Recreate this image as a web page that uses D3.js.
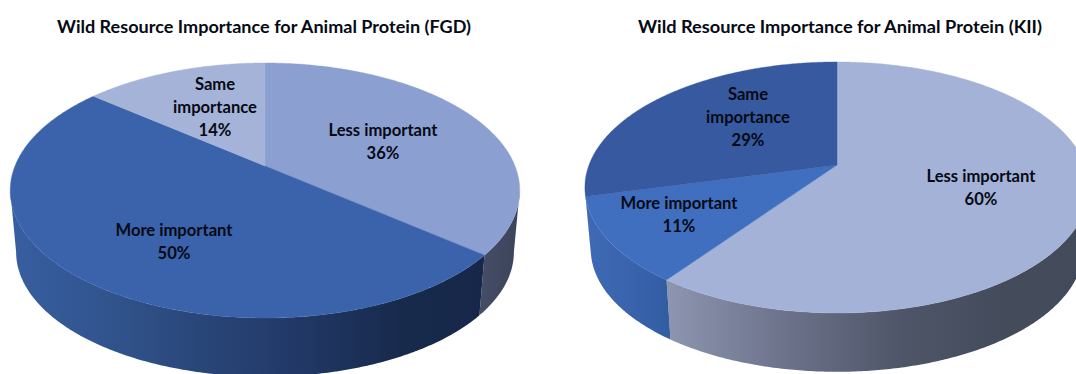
<!DOCTYPE html>
<html>
<head>
<meta charset="utf-8">
<script src="https://cdnjs.cloudflare.com/ajax/libs/d3/7.8.5/d3.min.js"></script>
<style>
  html, body { margin: 0; padding: 0; background: #fff; }
  svg { display: block; overflow: hidden; }
  text { font-family: Lato, "Open Sans", sans-serif; font-weight: 700; fill: #050a14; text-anchor: middle; }
</style>
</head>
<body>
<svg id="figure" width="1076" height="374"></svg>
<script>
// Share of responses per category, in clockwise order from twelve o'clock.
const categories = ["Less important", "More important", "Same importance"];
const fgdShares = [36, 50, 14];
const kiiShares = [60, 11, 29];
const fgdTitle = "Wild Resource Importance for Animal Protein (FGD)";
const kiiTitle = "Wild Resource Importance for Animal Protein (KII)";

// Disc geometry: apex position, perspective strength and projected radii.
const fgdView = {
  title: fgdTitle, titleX: 264, titleLength: 414, shares: fgdShares,
  apexX: 265, apexY: 166, tilt: 0.192, radiusX: 250, radiusY: 122.8,
  topColors: ["#8c9fd1", "#3b63ab", "#a5b3d8"],
  wallStops: [
    [["#454d66", 483], ["#3a4459", 520]],
    [["#375ea1", 12], ["#32558f", 100], ["#294679", 200], ["#213866", 300], ["#182a4c", 400], ["#16274a", 485]],
    [["#a5b3d8", 0], ["#a5b3d8", 1]]
  ],
  labels: [[383, 131, ["Less important", "36%"]],
           [174, 231, ["More important", "50%"]],
           [215, 85, ["Same", "importance", "14%"]]]
};
const kiiView = {
  title: kiiTitle, titleX: 840, titleLength: 404, shares: kiiShares,
  apexX: 837, apexY: 165, tilt: 0.179, radiusX: 248, radiusY: 121.5,
  topColors: ["#a4b2d7", "#416fc0", "#36599f"],
  wallStops: [
    [["#8d95b0", 667], ["#6b7189", 790], ["#4f5669", 900], ["#444b5b", 1000], ["#434a5a", 1089]],
    [["#3e69b4", 588], ["#3a64ad", 625], ["#335da3", 668]],
    [["#36599f", 0], ["#36599f", 1]]
  ],
  labels: [[981, 177, ["Less important", "60%"]],
           [679, 204, ["More important", "11%"]],
           [748, 95, ["Same", "importance", "29%"]]]
};

// The lower rim is the upper rim scaled about a far vanishing point below it.
const rimScale = 0.977;
const rimShift = 66;
const lineGap = 23;

const svg = d3.select("#figure");
const defs = svg.append("defs");
const pie = d3.pie().sort(null).value(d => d);
const outline = d3.line();

function drawDisc(view, idx) {
  const upper = a => {
    const u = Math.sin(a), v = -Math.cos(a), w = 1 - view.tilt * v;
    return [view.apexX + view.radiusX * u / w, view.apexY + view.radiusY * v / w];
  };
  const lower = a => {
    const [x, y] = upper(a);
    return [view.apexX + rimScale * (x - view.apexX), rimScale * y + rimShift];
  };
  const sweep = (a0, a1) => {
    const n = Math.max(4, Math.ceil((a1 - a0) / 0.01));
    return d3.range(n + 1).map(i => a0 + (a1 - a0) * i / n);
  };
  const slices = pie(view.shares);
  const g = svg.append("g");

  // Only the part of the rim facing the viewer has a wall; it runs between
  // the two silhouette angles where the disc is at its widest.
  const frontStart = Math.acos(-view.tilt);
  const frontEnd = 2 * Math.PI - frontStart;

  slices.forEach((d, i) => {
    const a0 = Math.max(d.startAngle, frontStart);
    const a1 = Math.min(d.endAngle, frontEnd);
    if (a1 <= a0) return;
    const stops = view.wallStops[i];
    const x0 = stops[0][1], x1 = stops[stops.length - 1][1];
    const id = `wall-${idx}-${i}`;
    const grad = defs.append("linearGradient").attr("id", id)
      .attr("gradientUnits", "userSpaceOnUse")
      .attr("x1", x0).attr("x2", x1).attr("y1", 0).attr("y2", 0);
    grad.selectAll("stop").data(stops).join("stop")
      .attr("offset", s => (s[1] - x0) / (x1 - x0))
      .attr("stop-color", s => s[0]);
    const angles = sweep(a0, a1);
    const pts = angles.map(upper).concat(angles.slice().reverse().map(lower));
    g.append("path").attr("d", outline(pts) + "Z")
      .attr("fill", `url(#${id})`);
  });

  // Top face, one wedge per category.
  g.selectAll("path.top").data(slices).join("path")
    .attr("class", "top")
    .attr("fill", (d, i) => view.topColors[i])
    .attr("stroke", (d, i) => view.topColors[i])
    .attr("stroke-width", 0.4)
    .attr("d", d => outline([[view.apexX, view.apexY], ...sweep(d.startAngle, d.endAngle).map(upper)]) + "Z");

  // Category and percentage labels.
  view.labels.forEach(([x, y, lines]) => {
    const t = svg.append("text").attr("font-size", 16.6);
    lines.forEach((line, k) => {
      t.append("tspan").attr("x", x).attr("y", y + 5 + k * lineGap).text(line);
    });
  });

  svg.append("text").attr("x", view.titleX).attr("y", 33)
    .attr("font-size", 16.6)
    .attr("textLength", view.titleLength)
    .attr("lengthAdjust", "spacingAndGlyphs")
    .text(view.title);
}

[fgdView, kiiView].forEach(drawDisc);
</script>
</body>
</html>
